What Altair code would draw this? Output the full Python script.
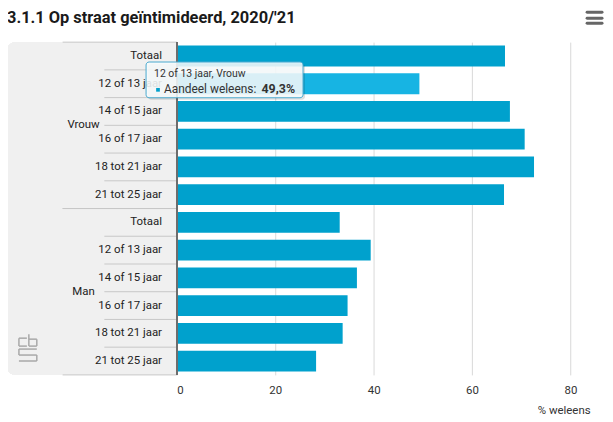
import altair as alt
import pandas as pd

# ---- data ----
groups = ["Vrouw"] * 6 + ["Man"] * 6
ages = ["Totaal", "12 of 13 jaar", "14 of 15 jaar", "16 of 17 jaar",
        "18 tot 21 jaar", "21 tot 25 jaar"] * 2
values = [66.7, 49.3, 67.7, 70.7, 72.6, 66.5,
          33.1, 39.4, 36.6, 34.7, 33.7, 28.3]
x_ticks = [0, 20, 40, 60, 80]
title_text = "3.1.1 Op straat geïntimideerd, 2020/'21"
x_title = "% weleens"
series_name = "Aandeel weleens"
highlight_key = "Vrouw|12 of 13 jaar"

df = pd.DataFrame({"groep": groups, "leeftijd": ages, "waarde": values})
df["key"] = df["groep"] + "|" + df["leeftijd"]
df["pos"] = list(range(6)) * 2
order = list(df["key"])

hl = df[df["key"] == highlight_key].iloc[0]
tip_header = f"{hl['leeftijd']}, {hl['groep']}"
tip_value = f"{hl['waarde']:.1f}".replace(".", ",") + "%"

# ---- layout ----
W, H = 416, 335
STEP = H / 12
FONT = "Roboto"
BAR = "#00a1cd"
BAR_HL = "#17b4e3"

base = alt.Chart(df)
yenc = alt.Y("key:N", sort=order, axis=None,
             scale=alt.Scale(domain=order, paddingInner=0.25, paddingOuter=0.125))

panel = base.mark_rect(color="#f0f0f0", cornerRadiusTopLeft=8,
                       cornerRadiusBottomLeft=8).encode(
    x=alt.value(-171), x2=alt.value(0), y=alt.value(0), y2=alt.value(H))

bars = base.mark_bar().encode(
    x=alt.X("waarde:Q", scale=alt.Scale(domain=[0, 84], nice=False),
            axis=alt.Axis(values=x_ticks, grid=True, gridColor="#d9d9d9",
                          domain=False, ticks=False, labelPadding=10,
                          labelFontSize=11.5, labelColor="#333", labelFont=FONT,
                          title=x_title, titleAnchor="end", titleFont=FONT,
                          titleFontSize=11.5, titleFontWeight="normal",
                          titleColor="#333", titlePadding=8)),
    y=yenc,
    color=alt.condition(alt.datum.key == highlight_key,
                        alt.value(BAR_HL), alt.value(BAR)),
)

sep_color = "#c8c8c8"
inner_sep = base.transform_filter("datum.pos > 0").mark_rule(
    color=sep_color, strokeWidth=1, yOffset=-STEP / 2).encode(
    y=yenc, x=alt.value(-73), x2=alt.value(0))
group_sep = base.transform_filter("datum.pos == 0").mark_rule(
    color=sep_color, strokeWidth=1, yOffset=-STEP / 2).encode(
    y=yenc, x=alt.value(-115), x2=alt.value(0))
bottom_sep = base.transform_filter("datum.pos == 5").mark_rule(
    color=sep_color, strokeWidth=1, yOffset=STEP / 2).encode(
    y=yenc, x=alt.value(-115), x2=alt.value(0))

ylabels = base.mark_text(align="right", baseline="middle", fontSize=11.5,
                         font=FONT, color="#222").encode(
    y=yenc, x=alt.value(-15), text="leeftijd:N")

glabels = base.transform_filter("datum.pos == 2").mark_text(
    align="center", baseline="middle", fontSize=11.5, font=FONT, color="#222",
    yOffset=STEP / 2).encode(y=yenc, x=alt.value(-94), text="groep:N")

yaxis_line = base.mark_rule(color="#6e6e6e", strokeWidth=1.5).encode(
    x=alt.value(0), y=alt.value(0), y2=alt.value(H))

# CBS logo (decoration), plot-pixel segments
logo_h = pd.DataFrame({
    "x1": [-159, -159, -149, -149, -159, -159, -159],
    "x2": [-151, -151, -141, -141, -141, -141, -141],
    "y":  [298, 306, 299, 306, 309, 315, 321],
})
logo_v = pd.DataFrame({
    "x":  [-159, -149, -141, -159, -141],
    "y1": [298, 294, 299, 309, 315],
    "y2": [306, 306, 306, 315, 321],
})
logo_hl = alt.Chart(logo_h).mark_rule(color="#a8a8a8", strokeWidth=1.5).encode(
    x=alt.X("x1:Q", scale=None), x2="x2:Q", y=alt.Y("y:Q", scale=None))
logo_vl = alt.Chart(logo_v).mark_rule(color="#a8a8a8", strokeWidth=1.5).encode(
    x=alt.X("x:Q", scale=None), y=alt.Y("y1:Q", scale=None), y2="y2:Q")

title = alt.Chart(pd.DataFrame({"t": [title_text]})).mark_text(
    align="left", baseline="alphabetic", fontSize=16.5, fontWeight="bold",
    font=FONT, color="#1a1a1a").encode(
    x=alt.value(-171), y=alt.value(-19), text="t:N")

menu = [alt.Chart(pd.DataFrame({"a": [0]})).mark_rule(
    color="#666", strokeWidth=3, strokeCap="round").encode(
    x=alt.value(413), x2=alt.value(428), y=alt.value(yy)) for yy in (-30, -24, -19)]

tip_shadow = alt.Chart(pd.DataFrame({"a": [0]})).mark_rect(
    color="#000", opacity=0.12, cornerRadius=3).encode(
    x=alt.value(-29), x2=alt.value(129), y=alt.value(22), y2=alt.value(58))
tip_box = alt.Chart(pd.DataFrame({"a": [0]})).mark_rect(
    fill="#f7fbfd", fillOpacity=0.87, stroke="#4aa9cf", strokeWidth=1,
    cornerRadius=3).encode(
    x=alt.value(-31), x2=alt.value(127), y=alt.value(20), y2=alt.value(56))
tip_head = alt.Chart(pd.DataFrame({"t": [tip_header]})).mark_text(
    align="left", baseline="middle", fontSize=10.5, font=FONT, color="#333").encode(
    x=alt.value(-23), y=alt.value(32), text="t:N")
tip_sq = alt.Chart(pd.DataFrame({"a": [0]})).mark_square(
    size=14, color=BAR, opacity=1).encode(x=alt.value(-19), y=alt.value(48))
tip_lab = alt.Chart(pd.DataFrame({"t": [series_name + ": "]})).mark_text(
    align="left", baseline="middle", fontSize=12, font=FONT, color="#333").encode(
    x=alt.value(-13), y=alt.value(47), text="t:N")
tip_val = alt.Chart(pd.DataFrame({"t": [tip_value]})).mark_text(
    align="right", baseline="middle", fontSize=12.5, fontWeight="bold",
    font=FONT, color="#333").encode(
    x=alt.value(119), y=alt.value(47), text="t:N")

chart = alt.layer(
    panel, bars, inner_sep, group_sep, bottom_sep, ylabels, glabels,
    yaxis_line, logo_hl, logo_vl, title, *menu,
    tip_shadow, tip_box, tip_head, tip_sq, tip_lab, tip_val,
).properties(
    width=W, height=H,
    autosize=alt.AutoSizeParams(type="none"),
    padding={"left": 170, "top": 33, "right": 15, "bottom": 40},
).configure_view(stroke=None)

chart.save("out.html", embed_options={"renderer": "svg", "actions": False})
